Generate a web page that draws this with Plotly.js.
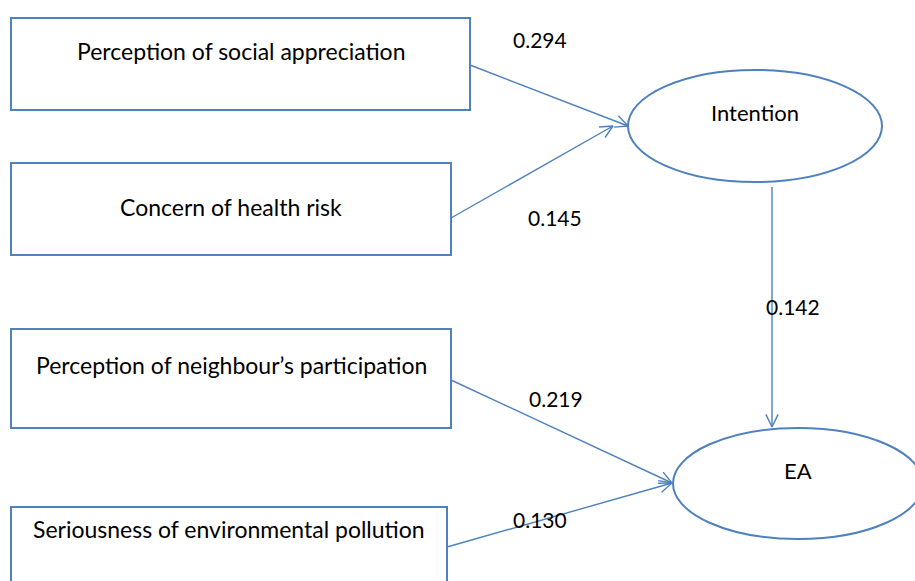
<!DOCTYPE html>
<html>
<head>
<meta charset="utf-8">
<script src="https://cdn.plot.ly/plotly-3.0.1.min.js"></script>
<style>html,body{margin:0;padding:0;background:#fff;}</style>
</head>
<body>
<div id="chart" style="width:915px;height:581px;"></div>
<script>
// ---- data ----
const constructs = ["Perception of social appreciation", "Concern of health risk",
  "Perception of neighbour’s participation", "Seriousness of environmental pollution"];
const latents = ["Intention", "EA"];
const pathFrom = ["Perception of social appreciation", "Concern of health risk", "Intention",
  "Perception of neighbour’s participation", "Seriousness of environmental pollution"];
const pathTo = ["Intention", "Intention", "EA", "EA", "EA"];
const pathCoef = [0.294, 0.145, 0.142, 0.219, 0.130];

// ---- layout (positions, sizes, styles) ----
const BLUE = "#4f81bd";
const FONT = "Lato, 'Open Sans', sans-serif";
const boxGeom = [
  {x0: 11, x1: 470, y0: 18, y1: 110, tx: 241, ty: 51},
  {x0: 11, x1: 451, y0: 163, y1: 255, tx: 231, ty: 207},
  {x0: 11, x1: 451, y0: 329, y1: 428, tx: 231, ty: 365},
  {x0: 11, x1: 447, y0: 507, y1: 600, tx: 229, ty: 529}
];
const ellGeom = [
  {x0: 628, x1: 882, y0: 70, y1: 182, tx: 755, ty: 112},
  {x0: 673, x1: 923, y0: 428, y1: 539, tx: 798, ty: 470}
];
const arrowGeom = [
  {sx: 470, sy: 65, ex: 628, ey: 126, lx: 540, ly: 39},
  {sx: 451, sy: 218, ex: 613, ey: 126, lx: 555, ly: 217},
  {sx: 772, sy: 187, ex: 772, ey: 427, lx: 793, ly: 306},
  {sx: 451, sy: 380, ex: 672, ey: 483, lx: 556, ly: 398},
  {sx: 447, sy: 547, ex: 672, ey: 483, lx: 540, ly: 519}
];

const shapes = [];
const annotations = [];
const traces = [];

constructs.forEach((name, i) => {
  const g = boxGeom[i];
  shapes.push({type: "rect", xref: "x", yref: "y", x0: g.x0, x1: g.x1, y0: g.y0, y1: g.y1,
    line: {color: BLUE, width: 2}, fillcolor: "rgba(0,0,0,0)", layer: "above"});
  annotations.push({x: g.tx, y: g.ty, xref: "x", yref: "y", text: name, showarrow: false,
    xanchor: "center", yanchor: "middle", font: {family: FONT, size: 23, color: "#000"}});
});
latents.forEach((name, i) => {
  const g = ellGeom[i];
  shapes.push({type: "circle", xref: "x", yref: "y", x0: g.x0, x1: g.x1, y0: g.y0, y1: g.y1,
    line: {color: BLUE, width: 2}, fillcolor: "rgba(0,0,0,0)", layer: "above"});
  annotations.push({x: g.tx, y: g.ty, xref: "x", yref: "y", text: name, showarrow: false,
    xanchor: "center", yanchor: "middle", font: {family: FONT, size: 22, color: "#000"}});
});

pathCoef.forEach((c, i) => {
  const a = arrowGeom[i];
  const ang = Math.atan2(a.ey - a.sy, a.ex - a.sx);
  const L = 14, spread = 0.45;
  const hx = [], hy = [];
  hx.push(a.ex - L * Math.cos(ang - spread), a.ex, a.ex - L * Math.cos(ang + spread));
  hy.push(a.ey - L * Math.sin(ang - spread), a.ey, a.ey - L * Math.sin(ang + spread));
  traces.push({type: "scatter", mode: "lines", x: [a.sx, a.ex], y: [a.sy, a.ey],
    line: {color: BLUE, width: 1.4}, hoverinfo: "skip", showlegend: false});
  traces.push({type: "scatter", mode: "lines", x: hx, y: hy,
    line: {color: BLUE, width: 1.4}, hoverinfo: "skip", showlegend: false});
  annotations.push({x: a.lx, y: a.ly, xref: "x", yref: "y", text: c.toFixed(3), showarrow: false,
    xanchor: "center", yanchor: "middle", font: {family: FONT, size: 21, color: "#000"}});
});

const layout = {
  width: 915, height: 581,
  margin: {l: 0, r: 0, t: 0, b: 0, pad: 0},
  paper_bgcolor: "#fff", plot_bgcolor: "#fff",
  xaxis: {range: [0, 915], visible: false, fixedrange: true},
  yaxis: {range: [581, 0], visible: false, fixedrange: true},
  shapes: shapes,
  annotations: annotations,
  showlegend: false
};
Plotly.newPlot("chart", traces, layout, {staticPlot: true, displayModeBar: false});
</script>
</body>
</html>
